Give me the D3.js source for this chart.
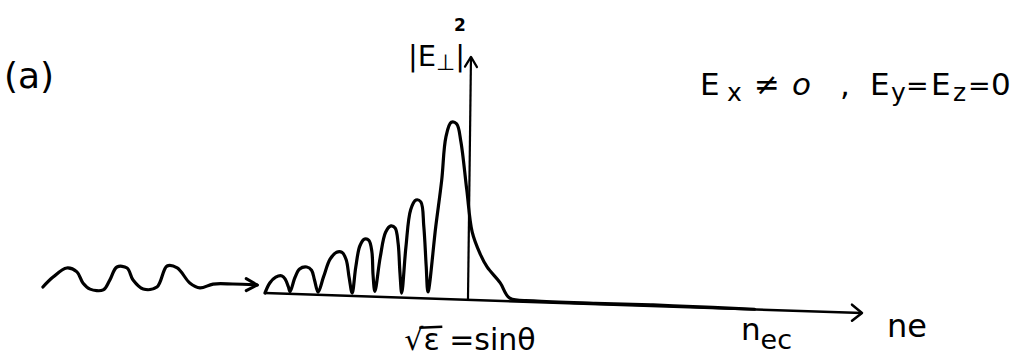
<!DOCTYPE html>
<html>
<head>
<meta charset="utf-8">
<script src="https://cdn.jsdelivr.net/npm/d3@7"></script>
<style>
  html, body { margin: 0; padding: 0; background: #fff; }
  svg text { font-family: "DejaVu Sans", sans-serif; fill: #000; }
</style>
</head>
<body>
<svg id="chart" width="1024" height="364"></svg>
<script>
// |E_perp|^2 vs ne, hand drawn sketch (x: 0..100 along ne, y: 0..100 intensity)
const fieldX = [0, 0.8, 1.8, 2.85, 3.4, 3.9, 4.2,
  5.0, 5.8, 7.0, 7.8, 8.3, 8.9,
  9.8, 10.9, 12.0, 12.9, 13.6, 14.1, 14.6,
  15.2, 15.9, 16.7, 17.4, 17.9, 18.1, 18.4,
  19.3, 20.2, 21.1, 21.8, 22.3, 22.6, 22.9,
  23.6, 24.4, 25.3, 26.1, 26.6, 27.0, 27.3,
  28.6, 29.6, 30.3, 31.2, 32.1, 32.8, 33.8, 34.7, 36, 37.2, 39.4, 41,
  45, 55, 65, 75, 82];
const fieldY = [0, 5.6, 9, 9.8, 8, 4, 1.2,
  9, 14, 15.2, 13.5, 8, 1.5,
  10, 20, 24, 24, 20, 10, 1.6,
  16, 28, 31.8, 31.2, 25, 12, 3,
  22, 36, 39.6, 38.5, 30, 14, 2.5,
  28, 49, 54.5, 53.5, 40, 18, 3.6,
  40, 66, 90, 98.3, 97.5, 88, 61, 37.8, 26, 18.6, 10, 1.7,
  0.7, 0.4, 0.6, 0.3, 0.1];

// incoming wave on the left
const waveX = [-37.2, -35.5, -33.2, -31.5, -30.5, -29.3, -27.1, -26, -24.8, -23.1, -22.1, -20.4,
  -18.1, -16.4, -14.7, -12.6, -10.9, -8.7, -5.4, -1.3];
const waveY = [-0.8, 4.9, 10.2, 8.2, 2.2, -1.1, -1.3, 4.3, 11.7, 11.3, 4.8, 0,
  1.3, 13.2, 12.3, 4.2, 1.6, 4, 4.4, 4.3];

const axisXValue = 34;   // position of the vertical axis (sqrt(eps) = sin theta)
const axisYTop = 135;
const xAxisEnd = 100;
const tickValues = [34, 84];
const tickLabels = ["√ε =sinθ", "nec"];

const svg = d3.select('#chart');
const origin = [265, 293];
const skew = 1.92;
const slope = Math.tan(skew * Math.PI / 180);

const x = d3.scaleLinear().domain([0, 100]).range([0, 597]);
const y = d3.scaleLinear().domain([0, 100]).range([0, -180]);

// screen position of a data point (accounts for the tilted baseline)
let toScreen = (vx, vy) => [origin[0] + x(vx), origin[1] + y(vy) + slope * x(vx)];

let g = svg.append('g')
  .attr('transform', `translate(${origin[0]},${origin[1]}) skewY(${skew})`);

let line = d3.line()
  .x(d => x(d[0]))
  .y(d => y(d[1]))
  .curve(d3.curveCatmullRom.alpha(0.5));

// horizontal axis
g.append('path')
  .attr('d', d3.line()([[x(0), y(0)], [x(xAxisEnd), y(0)]]))
  .attr('stroke', '#000').attr('stroke-width', 2.5).attr('fill', 'none');
g.append('path')
  .attr('d', `M${x(xAxisEnd) - 10},${y(0) - 8} L${x(xAxisEnd)},${y(0)} L${x(xAxisEnd) - 10},${y(0) + 8}`)
  .attr('stroke', '#000').attr('stroke-width', 2.5).attr('fill', 'none')
  .attr('stroke-linecap', 'round').attr('stroke-linejoin', 'round');

// vertical axis
g.append('path')
  .attr('d', d3.line()([[x(axisXValue), y(0)], [x(axisXValue) + 3, y(axisYTop)]]))
  .attr('stroke', '#000').attr('stroke-width', 2.2).attr('fill', 'none');
g.append('path')
  .attr('d', `M${x(axisXValue) - 3},${y(axisYTop) + 10} L${x(axisXValue) + 3},${y(axisYTop)} L${x(axisXValue) + 9},${y(axisYTop) + 10}`)
  .attr('stroke', '#000').attr('stroke-width', 2.2).attr('fill', 'none')
  .attr('stroke-linecap', 'round').attr('stroke-linejoin', 'round');

// field curve
g.append('path')
  .datum(d3.zip(fieldX, fieldY))
  .attr('d', line)
  .attr('stroke', '#000').attr('stroke-width', 3.2).attr('fill', 'none')
  .attr('stroke-linejoin', 'round').attr('stroke-linecap', 'round');

// incoming wave + arrow
let wave = d3.zip(waveX, waveY);
g.append('path')
  .datum(wave)
  .attr('d', line)
  .attr('stroke', '#000').attr('stroke-width', 3.2).attr('fill', 'none')
  .attr('stroke-linecap', 'round');
let tip = wave[wave.length - 1];
g.append('path')
  .attr('d', `M${x(tip[0]) - 11},${y(tip[1]) - 6} L${x(tip[0])},${y(tip[1])} L${x(tip[0]) - 11},${y(tip[1]) + 6}`)
  .attr('stroke', '#000').attr('stroke-width', 3).attr('fill', 'none')
  .attr('stroke-linecap', 'round').attr('stroke-linejoin', 'round');

// tick labels below the axis
let p0 = toScreen(tickValues[0], 0);
let t0 = svg.append('text')
  .attr('x', p0[0] + 2).attr('y', p0[1] + 50)
  .attr('text-anchor', 'middle')
  .style('font-size', '30px');
t0.text(tickLabels[0]);
// bar of the square root
let bb = t0.node().getBBox();
svg.append('line')
  .attr('x1', bb.x + 15).attr('x2', bb.x + 38)
  .attr('y1', bb.y + 6).attr('y2', bb.y + 5)
  .attr('stroke', '#000').attr('stroke-width', 2.5);

let p1 = toScreen(tickValues[1], 0);
let t1 = svg.append('text')
  .attr('x', p1[0]).attr('y', p1[1] + 30)
  .attr('text-anchor', 'middle')
  .style('font-size', '31px');
t1.append('tspan').text(tickLabels[1].slice(0, 1));
t1.append('tspan').attr('dy', 9).style('font-size', '27px').text(tickLabels[1].slice(1));

// axis titles
let pe = toScreen(xAxisEnd, 0);
svg.append('text')
  .attr('x', pe[0] + 25).attr('y', pe[1] + 24)
  .style('font-size', '32px')
  .text('ne');

let py = toScreen(axisXValue, axisYTop);
let yt = svg.append('text')
  .attr('x', py[0] - 60).attr('y', py[1] + 9)
  .style('font-size', '29px');
yt.append('tspan').text('|E');
yt.append('tspan').attr('dy', 4).style('font-size', '22px').text('⊥');
yt.append('tspan').attr('dy', -4).text('|');
svg.append('text')
  .attr('x', py[0] - 14).attr('y', py[1] - 26)
  .style('font-size', '17px').style('font-weight', 'bold')
  .text('2');

// panel label
svg.append('text')
  .attr('x', 4).attr('y', 88)
  .style('font-size', '36px')
  .text('(a)');

// condition
const condParts = [
  { t: 'E', x: 700, dy: 0, size: 31 },
  { t: 'x', x: 727, dy: 6, size: 25 },
  { t: '≠', x: 754, dy: 0, size: 31 },
  { t: 'o', x: 792, dy: 0, size: 31, italic: true },
  { t: ',', x: 840, dy: 0, size: 31 },
  { t: 'E', x: 870, dy: 0, size: 31 },
  { t: 'y', x: 891, dy: 6, size: 25 },
  { t: '=', x: 906, dy: 0, size: 27 },
  { t: 'E', x: 931, dy: 0, size: 31 },
  { t: 'z', x: 953, dy: 6, size: 25 },
  { t: '=', x: 968, dy: 0, size: 27 },
  { t: '0', x: 991, dy: 0, size: 31 }
];
svg.selectAll('text.cond')
  .data(condParts)
  .enter().append('text')
  .attr('class', 'cond')
  .attr('x', d => d.x)
  .attr('y', d => 95 + d.dy)
  .style('font-size', d => d.size + 'px')
  .style('font-style', d => d.italic ? 'italic' : 'normal')
  .text(d => d.t);
</script>
</body>
</html>
